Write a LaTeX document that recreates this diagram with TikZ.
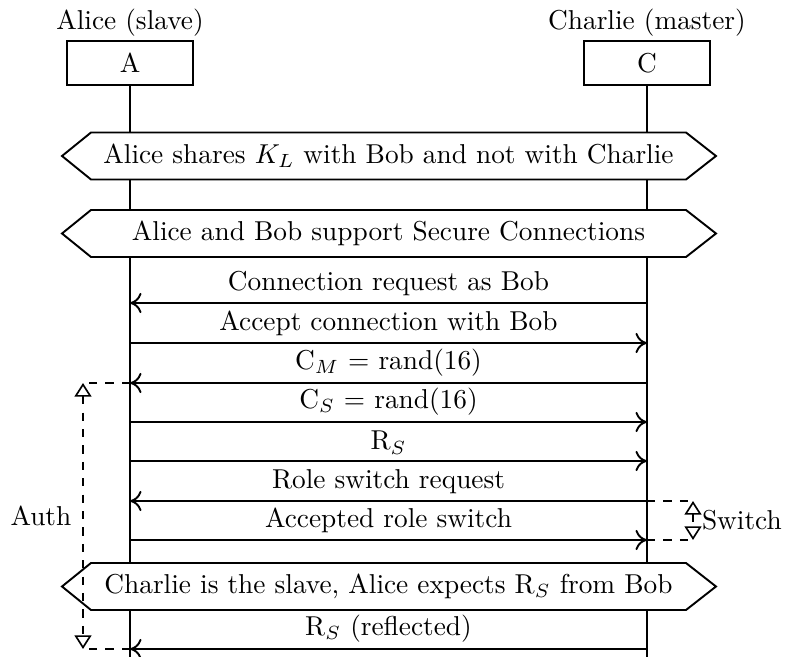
\documentclass[tikz,border=0pt]{standalone}
\usetikzlibrary{arrows.meta}

% sequence-diagram styles
\tikzset{
  lane/.style={line width=0.7pt},
  headbox/.style={draw, line width=0.7pt, minimum width=126*0.366pt, minimum height=44*0.366pt, inner sep=0pt},
  msg/.style={line width=0.7pt, -{To[length=4.2pt,width=7.4pt]}},
  msglabel/.style={above, inner sep=2.2pt},
  band/.style={draw, fill=white, line width=0.7pt},
  bandtext/.style={inner sep=0pt},
  aux/.style={dashed, line width=0.6pt},
  span/.style={dashed, line width=0.6pt, {Triangle[open,length=5pt,width=6.2pt]}-{Triangle[open,length=5pt,width=6.2pt]}},
}

% a six-sided note across both lifelines: name, vertical centre, text
\newcommand\hexband[3]{%
  \path[band] (62,#2) -- (91,#2-23.5) -- (686,#2-23.5) -- (716,#2)
        -- (686,#2+23.5) -- (91,#2+23.5) -- cycle;
  \node[bandtext] (#1) at (388.5,#2) {#3};}

\begin{document}
\begin{tikzpicture}[x=0.366pt, y=-0.366pt]
\useasboundingbox (0,0) rectangle (786,657);

% participants
\node (alice) at (130,23) {Alice (slave)};
\node (charlie) at (647,23) {Charlie (master)};
\node[headbox] (A) at (130,63) {A};
\node[headbox] (C) at (647,63) {C};

% lifelines
\coordinate (Aend) at (130,662);
\coordinate (Cend) at (647,662);
\draw[lane] (A.south) -- (Aend);
\draw[lane] (C.south) -- (Cend);

% notes spanning both lifelines
\hexband{kl}{156}{Alice shares $K_L$ with Bob and not with Charlie}
\hexband{sc}{233.5}{Alice and Bob support Secure Connections}
\hexband{slave}{586.5}{Charlie is the slave, Alice expects R$_S$ from Bob}

% message end points on the lifelines
\foreach \i/\y in {1/303, 2/343, 3/383, 4/422, 5/461, 6/501, 7/540, 8/649} {
  \coordinate (a\i) at (130,\y);
  \coordinate (c\i) at (647,\y);
}

% messages
\draw[msg] (c1) -- node[msglabel] {Connection request as Bob} (a1);
\draw[msg] (a2) -- node[msglabel] {Accept connection with Bob} (c2);
\draw[msg] (c3) -- node[msglabel] {C$_M$ = rand(16)} (a3);
\draw[msg] (a4) -- node[msglabel] {C$_S$ = rand(16)} (c4);
\draw[msg] (a5) -- node[msglabel] {R$_S$} (c5);
\draw[msg] (c6) -- node[msglabel] {Role switch request} (a6);
\draw[msg] (a7) -- node[msglabel] {Accepted role switch} (c7);
\draw[msg] (c8) -- node[msglabel] {R$_S$ (reflected)} (a8);

% authentication span
\coordinate (auth1) at (83,383);
\coordinate (auth2) at (83,649);
\draw[aux] (a3) -- (auth1);
\draw[aux] (a8) -- (auth2);
\draw[span] (auth1) -- node[left, inner sep=4pt] (auth) {Auth} (auth2);

% role switch span
\coordinate (sw1) at (693,501);
\coordinate (sw2) at (693,540);
\draw[aux] (c6) -- (sw1);
\draw[aux] (c7) -- (sw2);
\draw[span] (sw1) -- node[right, inner sep=3pt] (switch) {Switch} (sw2);
\end{tikzpicture}
\end{document}
